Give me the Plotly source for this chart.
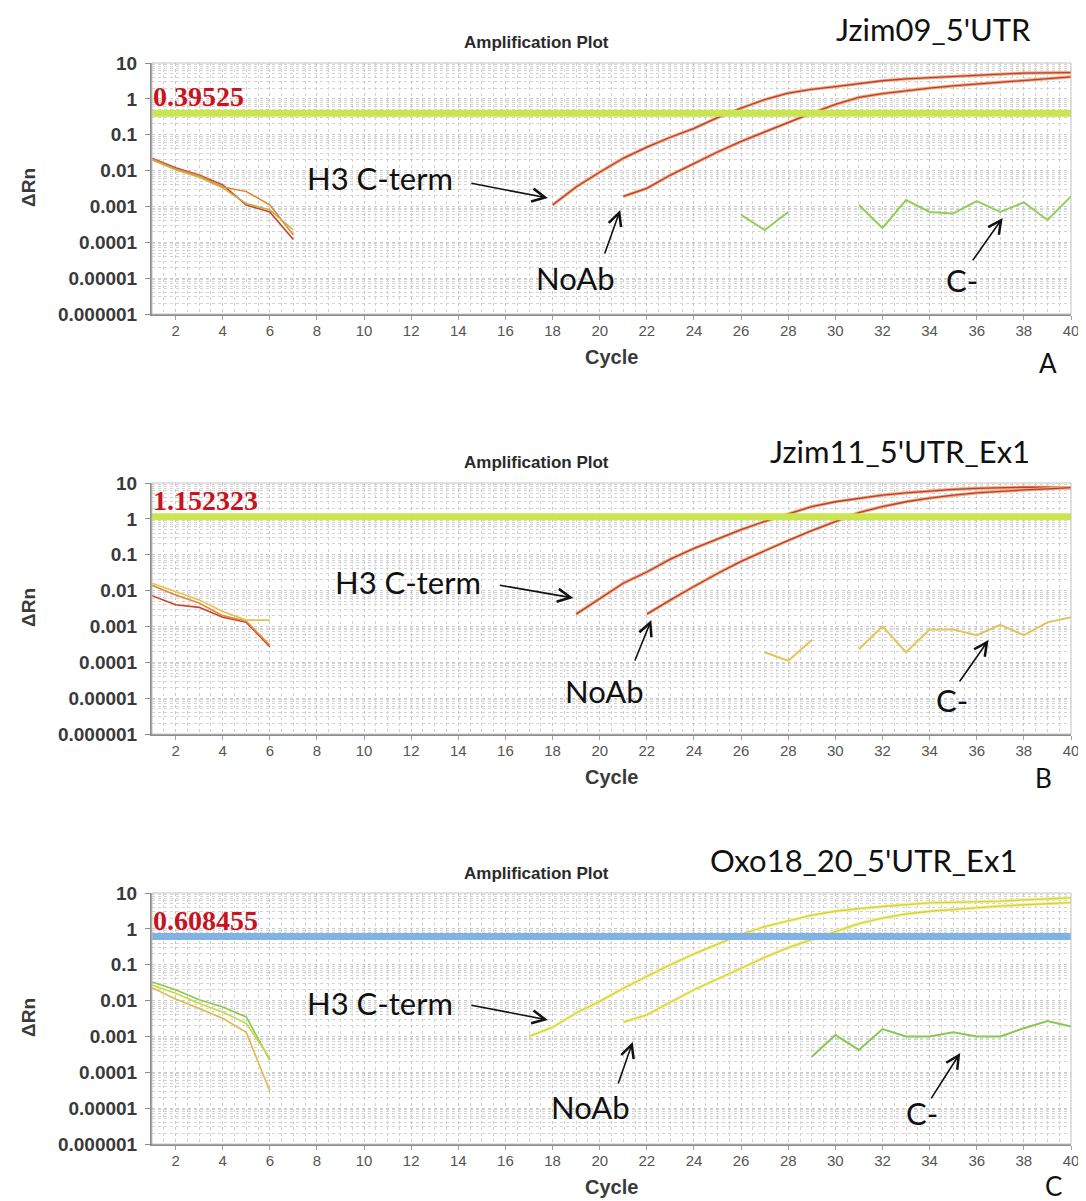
import math
import plotly.graph_objects as go

# page is 1086x1201; the browser body has an 8px margin, so the figure is 16px smaller
OFF = 8
FW, FH = 1086 - OFF, 1201 - OFF

# ---------------- data ----------------
x_tick_vals = list(range(2, 41, 2))
y_tick_vals = [10, 1, 0.1, 0.01, 0.001, 0.0001, 0.00001, 0.000001]
y_tick_text = ["10", "1", "0.1", "0.01", "0.001", "0.0001", "0.00001", "0.000001"]

panel_titles = ["Jzim09_5'UTR", "Jzim11_5'UTR_Ex1", "Oxo18_20_5'UTR_Ex1"]
panel_letters = ["A", "B", "C"]
thresholds = [0.39525, 1.152323, 0.608455]
threshold_labels = ["0.39525", "1.152323", "0.608455"]

# Panel A
A_early_cycles = [1, 2, 3, 4, 5, 6, 7]
A_early_1 = [0.022, 0.012, 0.0075, 0.004, 0.0011, 0.0007, 0.00012]
A_early_2 = [0.021, 0.011, 0.0072, 0.0035, 0.0026, 0.0011, 0.00016]
A_early_3 = [0.020, 0.0105, 0.0065, 0.0033, 0.0012, 0.0008, 0.00022]
A_h3_cycles = list(range(18, 41))
A_h3 = [0.0011, 0.0035, 0.009, 0.022, 0.045, 0.085, 0.15, 0.3, 0.55, 0.95, 1.45, 1.85,
        2.2, 2.7, 3.2, 3.6, 3.9, 4.3, 4.6, 4.9, 5.2, 5.3, 5.4]
A_noab_cycles = list(range(21, 41))
A_noab = [0.0019, 0.0032, 0.0075, 0.016, 0.033, 0.065, 0.12, 0.22, 0.4, 0.7, 1.1, 1.4,
          1.7, 2.0, 2.3, 2.6, 2.9, 3.3, 3.7, 4.1]
A_cneg_cycles = list(range(26, 41))
A_cneg = [0.00058, 0.00022, 0.0007, None, None, 0.0011, 0.00025, 0.0015, 0.0007, 0.00064,
          0.0014, 0.0007, 0.0013, 0.00042, 0.0019]

# Panel B
B_early_cycles = [1, 2, 3, 4, 5, 6]
B_early_1 = [0.0072, 0.0040, 0.0034, 0.0018, 0.0013, 0.00027]
B_early_2 = [0.014, 0.0075, 0.0045, 0.002, 0.0014, 0.0003]
B_early_3 = [0.016, 0.0095, 0.0055, 0.0026, 0.0015, 0.0015]
B_h3_cycles = list(range(19, 41))
B_h3 = [0.0022, 0.006, 0.016, 0.033, 0.075, 0.15, 0.28, 0.5, 0.85, 1.4, 2.2, 3.0, 3.8,
        4.6, 5.3, 6.0, 6.6, 7.1, 7.4, 7.6, 7.6, 7.3]
B_noab_cycles = list(range(22, 41))
B_noab = [0.0022, 0.0055, 0.013, 0.03, 0.065, 0.13, 0.25, 0.47, 0.85, 1.5, 2.2, 3.0, 3.8,
          4.6, 5.3, 5.9, 6.4, 6.9, 7.4]
B_cneg_cycles = list(range(27, 41))
B_cneg = [0.00019, 0.00011, 0.00042, None, 0.00023, 0.001, 0.00019, 0.00082, 0.00082,
          0.00057, 0.0011, 0.00057, 0.0013, 0.0018]

# Panel C
C_early_cycles = [1, 2, 3, 4, 5, 6]
C_early_1 = [0.033, 0.020, 0.0106, 0.0066, 0.0035, 0.00022]
C_early_2 = [0.027, 0.016, 0.0083, 0.0048, 0.0023, 0.00025]
C_early_3 = [0.023, 0.011, 0.006, 0.0032, 0.0013, 0.00003]
C_h3_cycles = list(range(17, 41))
C_h3 = [0.0010, 0.0018, 0.0045, 0.0095, 0.022, 0.048, 0.1, 0.2, 0.38, 0.7, 1.15, 1.7,
        2.4, 3.1, 3.7, 4.2, 4.8, 5.3, 5.5, 5.6, 5.9, 6.4, 7.0, 7.3]
C_noab_cycles = list(range(21, 41))
C_noab = [0.0025, 0.004, 0.009, 0.02, 0.04, 0.08, 0.16, 0.3, 0.5, 0.85, 1.4, 2.0, 2.6,
          3.1, 3.5, 3.9, 4.3, 4.7, 5.1, 5.4]
C_cneg_cycles = list(range(29, 41))
C_cneg = [0.00027, 0.0011, 0.00042, 0.0016, 0.001, 0.001, 0.0013, 0.001, 0.001, 0.0017,
          0.0027, 0.0019]

# ---------------- layout helpers (page pixels -> paper fractions) ----------------
def fx(px):
    return (px - OFF) / FW


def fy(py):
    return 1 - (py - OFF) / FH


panels = [
    dict(top=63, early=[(A_early_1, "#c8442c"), (A_early_2, "#e08a3c"), (A_early_3, "#c8b04a")],
         early_x=A_early_cycles,
         amp=[(A_h3_cycles, A_h3), (A_noab_cycles, A_noab)], amp_core="#b8402c", amp_halo="#f2a77e",
         cneg=(A_cneg_cycles, A_cneg), cneg_color="#92cf5a", thr_color="#c9e650"),
    dict(top=483, early=[(B_early_1, "#c8442c"), (B_early_2, "#e08a3c"), (B_early_3, "#e2c24a")],
         early_x=B_early_cycles,
         amp=[(B_h3_cycles, B_h3), (B_noab_cycles, B_noab)], amp_core="#b8402c", amp_halo="#f2a77e",
         cneg=(B_cneg_cycles, B_cneg), cneg_color="#e3c55a", thr_color="#c9e650"),
    dict(top=893, early=[(C_early_1, "#8cc84a"), (C_early_2, "#c8d848"), (C_early_3, "#e0b84a")],
         early_x=C_early_cycles,
         amp=[(C_h3_cycles, C_h3), (C_noab_cycles, C_noab)], amp_core="#d8d23c", amp_halo="#f0f09a",
         cneg=(C_cneg_cycles, C_cneg), cneg_color="#86c850", thr_color="#80b2e6"),
]

PLOT_H = 251
X0, X1 = 152, 1071
AXIS_FONT = "Liberation Sans, Arial, sans-serif"
TEXT_FONT = "Lato, Open Sans, sans-serif"

minor_y = [m * 10 ** e for e in range(-6, 1) for m in range(2, 10)]

fig = go.Figure()
layout = dict(width=FW, height=FH, margin=dict(l=0, r=0, t=0, b=0, pad=0, autoexpand=False),
              autosize=False, paper_bgcolor="white", plot_bgcolor="white", showlegend=False,
              hovermode=False)
annotations = []
shapes = []

# arrow heads (cycle, log10 dRn) and tail offsets (px)
arrows = [
    [(17.8, -2.765, -78, -15), (20.87, -3.10, -16, 45), (37.1, -3.32, -31, 44)],
    [(18.88, -2.207, -75, -13), (22.19, -2.82, -17, 42), (36.5, -3.378, -30, 43)],
    [(17.8, -2.54, -78, -15), (21.4, -3.155, -15, 43), (35.3, -3.46, -30, 47)],
]
label_pos = [
    [(380, 178), (575, 278), (962, 280)],
    [(408, 582), (604, 691), (952, 700)],
    [(380, 1003), (590, 1107), (922, 1113)],
]
title_pos = [(933, 29), (900, 451), (863, 860)]
letter_pos = [(1048, 363), (1043, 778), (1053, 1186)]

for i, p in enumerate(panels):
    s = "" if i == 0 else str(i + 1)
    xa, ya = "x" + s, "y" + s
    top = p["top"]
    bot = top + PLOT_H

    layout["xaxis" + s] = dict(
        domain=[fx(X0), fx(X1)], range=[1, 40], anchor=ya, automargin=False,
        tickmode="array", tickvals=x_tick_vals, ticktext=[str(v) for v in x_tick_vals],
        showline=True, linecolor="#8c8c8c", linewidth=2,
        ticks="outside", ticklen=4, tickcolor="#a0a0a0", ticklabelstandoff=-2,
        showgrid=True, gridcolor="#c8c8c8", griddash="dot", gridwidth=1,
        minor=dict(dtick=0.5, tick0=1, showgrid=True, gridcolor="#d2d2d2", griddash="dot"),
        zeroline=False, fixedrange=True,
        tickfont=dict(family=AXIS_FONT, size=15, color="#555555"),
    )
    layout["yaxis" + s] = dict(
        type="log", range=[-6, 1], domain=[fy(bot), fy(top)], anchor=xa, automargin=False,
        tickmode="array", tickvals=y_tick_vals, ticktext=y_tick_text,
        showline=True, linecolor="#8c8c8c", linewidth=2,
        ticks="outside", ticklen=5, tickcolor="#8c8c8c", ticklabelstandoff=4,
        showgrid=True, gridcolor="#c8c8c8", griddash="dot", gridwidth=1,
        minor=dict(tickmode="array", tickvals=minor_y, showgrid=True,
                   gridcolor="#d4d4d4", griddash="dot"),
        zeroline=False, fixedrange=True,
        tickfont=dict(family=AXIS_FONT, size=19, color="#3a3a3a", weight="bold"),
    )
    shapes.append(dict(type="rect", xref=xa + " domain", yref=ya + " domain",
                       x0=0, x1=1, y0=0, y1=1, line=dict(color="#c4c4c4", width=1), layer="above"))

    # early (baseline) curves
    for vals, col in p["early"]:
        fig.add_trace(go.Scatter(x=p["early_x"], y=vals, mode="lines",
                                 line=dict(color=col, width=1.6), xaxis=xa, yaxis=ya))
    # amplification curves (halo + core)
    for cx, cy in p["amp"]:
        fig.add_trace(go.Scatter(x=cx, y=cy, mode="lines",
                                 line=dict(color=p["amp_halo"], width=3.2), xaxis=xa, yaxis=ya))
        fig.add_trace(go.Scatter(x=cx, y=cy, mode="lines",
                                 line=dict(color=p["amp_core"], width=1.3), xaxis=xa, yaxis=ya))
    # negative control
    fig.add_trace(go.Scatter(x=p["cneg"][0], y=p["cneg"][1], mode="lines", connectgaps=False,
                             line=dict(color=p["cneg_color"], width=2), xaxis=xa, yaxis=ya))
    # threshold
    fig.add_trace(go.Scatter(x=[1, 40], y=[thresholds[i], thresholds[i]], mode="lines",
                             line=dict(color=p["thr_color"], width=7), xaxis=xa, yaxis=ya))
    annotations.append(dict(x=1, y=math.log10(thresholds[i]), xref=xa, yref=ya,
                            text="<b>" + threshold_labels[i] + "</b>", showarrow=False,
                            xanchor="left", yanchor="bottom", xshift=-1, yshift=-1,
                            font=dict(family="Liberation Serif, Times New Roman, serif",
                                      size=28, color="#c8141e")))

    # arrows
    for hx, hy, axp, ayp in arrows[i]:
        annotations.append(dict(x=hx, y=hy, xref=xa, yref=ya, text="", showarrow=True,
                                ax=axp, ay=ayp, arrowhead=5, arrowsize=1.6, arrowwidth=1.6,
                                arrowcolor="#111111", standoff=0, startstandoff=0))
    # labels
    for txt, (lx, ly) in zip(["H3 C-term", "NoAb", "C-"], label_pos[i]):
        annotations.append(dict(x=fx(lx), y=fy(ly), xref="paper", yref="paper", text=txt,
                                showarrow=False, xanchor="center", yanchor="middle",
                                font=dict(family=TEXT_FONT, size=31, color="#111111")))
    # titles
    tx, ty = title_pos[i]
    annotations.append(dict(x=fx(tx), y=fy(ty), xref="paper", yref="paper", text=panel_titles[i],
                            showarrow=False, xanchor="center", yanchor="middle",
                            font=dict(family=TEXT_FONT, size=31, color="#111111")))
    lx, ly = letter_pos[i]
    annotations.append(dict(x=fx(lx), y=fy(ly), xref="paper", yref="paper", text=panel_letters[i],
                            showarrow=False, xanchor="center", yanchor="middle",
                            font=dict(family=TEXT_FONT, size=26, color="#111111")))
    annotations.append(dict(x=fx(536), y=fy(top - 20), xref="paper", yref="paper",
                            text="<b>Amplification Plot</b>", showarrow=False,
                            xanchor="center", yanchor="middle",
                            font=dict(family=AXIS_FONT, size=17, color="#2a2a2a")))
    annotations.append(dict(x=fx(611), y=fy(bot + 43), xref="paper", yref="paper",
                            text="<b>Cycle</b>", showarrow=False, xanchor="center", yanchor="middle",
                            font=dict(family=AXIS_FONT, size=20, color="#3a3a3a")))
    annotations.append(dict(x=fx(28), y=fy(top + 125), xref="paper", yref="paper",
                            text="<b>ΔRn</b>", showarrow=False, textangle=-90,
                            xanchor="center", yanchor="middle",
                            font=dict(family=AXIS_FONT, size=19, color="#3a3a3a")))

layout["annotations"] = annotations
layout["shapes"] = shapes
fig.update_layout(**layout)
fig.write_html("out.html")
